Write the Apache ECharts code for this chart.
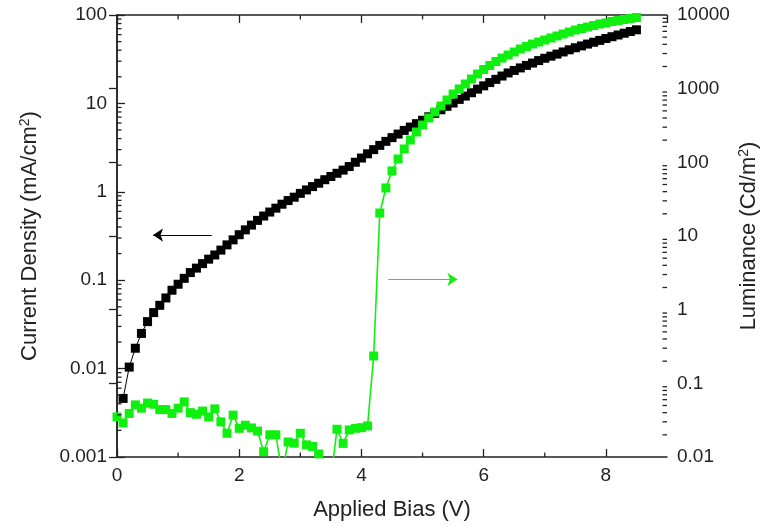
<!DOCTYPE html>
<html lang="en">
<head>
<meta charset="UTF-8">
<title>J-V-L</title>
<style>
  html, body { margin: 0; padding: 0; background: #fff; }
  #main { width: 762px; height: 527px; }
</style>
</head>
<body>
<div id="main"></div>
<script src="https://cdn.jsdelivr.net/npm/echarts@6/dist/echarts.min.js"></script>
<script>
// current density (mA/cm2) vs bias (V)
var biasJ = [0.1,0.2,0.3,0.4,0.5,0.6,0.7,0.8,0.9,1.0,
  1.1,1.2,1.3,1.4,1.5,1.6,1.7,1.8,1.9,2.0,
  2.1,2.2,2.3,2.4,2.5,2.6,2.7,2.8,2.9,3.0,
  3.1,3.2,3.3,3.4,3.5,3.6,3.7,3.8,3.9,4.0,
  4.1,4.2,4.3,4.4,4.5,4.6,4.7,4.8,4.9,5.0,
  5.1,5.2,5.3,5.4,5.5,5.6,5.7,5.8,5.9,6.0,
  6.1,6.2,6.3,6.4,6.5,6.6,6.7,6.8,6.9,7.0,
  7.1,7.2,7.3,7.4,7.5,7.6,7.7,7.8,7.9,8.0,
  8.1,8.2,8.3,8.4,8.5];
var current = [0.0046,0.0104,0.017,0.025,0.034,0.043,0.052,0.063,0.077,0.09,
  0.105,0.122,0.137,0.154,0.173,0.193,0.219,0.251,0.286,0.327,
  0.371,0.42,0.475,0.532,0.59,0.653,0.724,0.796,0.869,0.96,
  1.05,1.145,1.25,1.37,1.49,1.62,1.76,1.93,2.16,2.41,
  2.69,3.0,3.35,3.72,4.1,4.5,4.95,5.4,5.9,6.45,
  7.05,7.71,8.47,9.27,10.1,11.1,12.1,13.2,14.5,15.8,
  17.2,18.7,20.4,22.1,23.6,25.2,26.9,28.6,30.5,32.4,
  34.2,36.1,38.2,40.4,42.6,44.7,46.9,49.2,51.6,54.2,
  56.8,59.4,62.2,65,68];

// luminance (Cd/m2) vs bias (V)
var biasL = [0.0,0.1,0.2,0.3,0.4,0.5,0.6,0.7,0.8,0.9,1.0,
  1.1,1.2,1.3,1.4,1.5,1.6,1.7,1.8,1.9,2.0,
  2.1,2.2,2.3,2.4,2.5,2.6,2.7,2.8,2.9,3.0,
  3.1,3.2,3.3,3.4,3.5,3.6,3.7,3.8,3.9,4.0,
  4.1,4.2,4.3,4.4,4.5,4.6,4.7,4.8,4.9,5.0,
  5.1,5.2,5.3,5.4,5.5,5.6,5.7,5.8,5.9,6.0,
  6.1,6.2,6.3,6.4,6.5,6.6,6.7,6.8,6.9,7.0,
  7.1,7.2,7.3,7.4,7.5,7.6,7.7,7.8,7.9,8.0,
  8.1,8.2,8.3,8.4,8.5];
var luminance = [0.035,0.029,0.039,0.051,0.046,0.054,0.052,0.044,0.044,0.039,0.046,
  0.056,0.040,0.038,0.042,0.035,0.045,0.030,0.021,0.037,0.0245,
  0.027,0.0248,0.0225,0.0118,0.020,0.020,0.006,0.016,0.0154,0.021,
  0.0146,0.0139,0.011,0.006,0.005,0.0238,0.0153,0.0233,0.0245,0.025,
  0.0264,0.235,20.5,44.9,76.3,111,152,201,258,321,
  400,482,582,702,847,990,1157,1352,1581,1820,
  2064,2337,2606,2864,3148,3455,3735,4038,4302,4579,
  4875,5188,5521,5875,6252,6561,6871,7194,7551,7787,
  8166,8414,8690,8958,9245];

var xMinor = [1, 3, 5, 7];
var leftTicks = ['0.001', '0.01', '0.1', '1', '10', '100'];
var rightTicks = ['0.01', '0.1', '1', '10', '100', '1000', '10000'];

var FONT = '"Liberation Sans", Arial, sans-serif';
var AX = '#222';

function decadeMinors(lo, hi) {
  var out = [];
  for (var e = lo; e < hi; e++) {
    for (var k = 2; k <= 9; k++) out.push(k * Math.pow(10, e));
  }
  return out;
}

// short tick marks placed through the axes, dx/dy = direction in px
function tickSeries(yIdx, pts, dx, dy) {
  return {
    type: 'custom',
    xAxisIndex: 0,
    yAxisIndex: yIdx,
    silent: true,
    clip: false,
    z: 10,
    data: pts,
    renderItem: function (params, api) {
      var p = api.coord([api.value(0), api.value(1)]);
      return {
        type: 'line',
        shape: { x1: p[0], y1: p[1], x2: p[0] + dx, y2: p[1] + dy },
        style: { stroke: AX, lineWidth: 1.3 }
      };
    }
  };
}

var myChart = echarts.init(document.getElementById('main'));

var axisBase = {
  axisLine: { lineStyle: { color: AX, width: 1.5 } },
  axisTick: { inside: true, length: 8, lineStyle: { color: AX, width: 1.3 } },
  splitLine: { show: false }
};

var option = {
  animation: false,
  grid: { left: 117, right: 95, top: 15, bottom: 70, outerBoundsMode: 'none', containLabel: false },
  xAxis: [
    echarts.util.merge({
      type: 'value', position: 'bottom', min: 0, max: 9, interval: 2,
      axisLabel: { fontSize: 19, color: AX, fontFamily: FONT, margin: 9, showMaxLabel: false },
      name: 'Applied Bias (V)', nameLocation: 'middle', nameGap: 42,
      nameTextStyle: { fontSize: 22, color: AX, fontFamily: FONT }
    }, axisBase, true),
    echarts.util.merge({
      type: 'value', position: 'top', min: 0, max: 9, interval: 2,
      axisLabel: { show: false }
    }, axisBase, true)
  ],
  yAxis: [
    echarts.util.merge({
      type: 'log', logBase: 10, position: 'left', min: 0.001, max: 100,
      axisLabel: {
        fontSize: 19, color: AX, fontFamily: FONT, margin: 10,
        formatter: function (v) { return leftTicks[Math.round(Math.log10(v)) + 3]; }
      },
      name: 'Current Density (mA/cm{sup|2})', nameLocation: 'middle', nameRotate: 90, nameGap: 75,
      nameTextStyle: {
        fontSize: 22, color: AX, fontFamily: FONT,
        rich: { sup: { fontSize: 14, color: AX, fontFamily: FONT, padding: [0, 0, 10, 0] } }
      }
    }, axisBase, true),
    echarts.util.merge({
      type: 'log', logBase: 10, position: 'right', min: 0.01, max: 10000,
      axisLabel: {
        fontSize: 19, color: AX, fontFamily: FONT, margin: 10,
        formatter: function (v) { return rightTicks[Math.round(Math.log10(v)) + 2]; }
      },
      name: 'Luminance (Cd/m{sup|2})', nameLocation: 'middle', nameRotate: 90, nameGap: 70,
      nameMoveOverlap: false,
      nameTextStyle: {
        fontSize: 22, color: AX, fontFamily: FONT,
        rich: { sup: { fontSize: 14, color: AX, fontFamily: FONT, padding: [0, 0, 10, 0] } }
      }
    }, axisBase, true)
  ],
  series: [
    {
      name: 'Current Density',
      type: 'line',
      xAxisIndex: 0, yAxisIndex: 0,
      data: biasJ.map(function (v, i) { return [v, current[i]]; }),
      symbol: 'rect', symbolSize: 9, showAllSymbol: true,
      itemStyle: { color: '#000' },
      lineStyle: { color: '#000', width: 1 },
      markLine: {
        silent: true, symbol: ['none', 'arrow'], symbolSize: 10,
        label: { show: false },
        lineStyle: { color: '#000', width: 1, type: 'solid' },
        data: [[{ coord: [1.55, 0.324] }, { coord: [0.59, 0.324] }]]
      }
    },
    {
      name: 'Luminance',
      type: 'line',
      xAxisIndex: 0, yAxisIndex: 1,
      data: biasL.map(function (v, i) { return [v, luminance[i]]; }),
      symbol: 'rect', symbolSize: 9, showAllSymbol: true,
      itemStyle: { color: '#10f010' },
      lineStyle: { color: '#10f010', width: 1.6 },
      markLine: {
        silent: true, symbol: ['none', 'arrow'], symbolSize: 10,
        label: { show: false },
        lineStyle: { color: '#10f010', width: 1, type: 'solid' },
        data: [[{ coord: [4.44, 2.58] }, { coord: [5.57, 2.58] }]]
      }
    },
    tickSeries(0, decadeMinors(-3, 2).map(function (v) { return [0, v]; }), 4.5, 0),
    tickSeries(1, decadeMinors(-2, 4).map(function (v) { return [9, v]; }), -4.5, 0),
    tickSeries(0, xMinor.map(function (v) { return [v, 0.001]; }), 0, -4.5),
    tickSeries(0, xMinor.map(function (v) { return [v, 100]; }), 0, 4.5)
  ]
};

myChart.setOption(option);
</script>
</body>
</html>
